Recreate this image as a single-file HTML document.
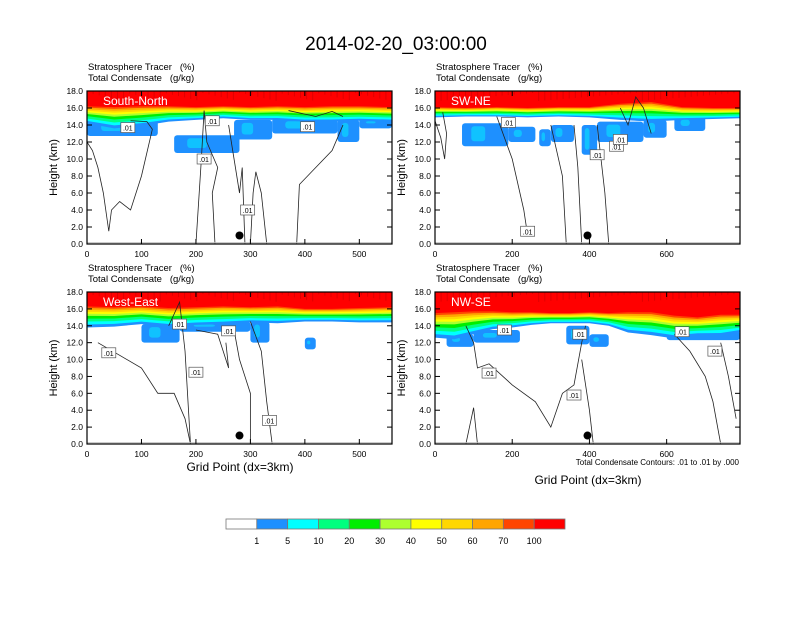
<!DOCTYPE html>
<html><head><meta charset="utf-8"><style>
body{margin:0;background:#fff;}
svg text{font-family:"Liberation Sans",Arial,sans-serif;white-space:pre;}
</style></head><body>
<svg id="chart" width="792" height="612" viewBox="0 0 792 612" xmlns="http://www.w3.org/2000/svg">
<rect width="792" height="612" fill="#fff"/>
<text x="396" y="50" font-size="19" text-anchor="middle">2014-02-20_03:00:00</text>
<g id="panels"></g>
<g id="colorbar"></g>
<text x="240" y="471" font-size="12" text-anchor="middle">Grid Point (dx=3km)</text>
<text x="588" y="484" font-size="12" text-anchor="middle">Grid Point (dx=3km)</text>
<text x="739" y="465" font-size="8" text-anchor="end">Total Condensate Contours: .01 to .01 by .000</text>
</svg>
<script>
// ---- data ----
const colorLevels = ["1","5","10","20","30","40","50","60","70","100"];
const colorFills = ["#ffffff","#1e90ff","#00ffff","#00ff7f","#00ee00","#adff2f","#ffff00","#ffd700","#ffa500","#ff4500","#ff0000"];
const yTicks = [0,2,4,6,8,10,12,14,16,18];
const panelNames = ["South-North","SW-NE","West-East","NW-SE"];
const panelXMax = [560,790,560,790];
const panelXTicks = [[0,100,200,300,400,500],[0,200,400,600],[0,100,200,300,400,500],[0,200,400,600]];
const bandX = [[0,50,100,150,200,250,300,350,400,450,500,560],[0,80,160,240,320,400,480,560,640,720,790],[0,50,100,150,200,250,300,350,400,450,500,560],[0,50,100,150,200,250,300,350,400,450,500,560,620,680,740,790]];
const redBase = [[16.2,16.1,16.2,16.2,16.1,16.2,16.1,16.2,16.1,16.2,16.2,16.1],[16.1,16.0,16.1,16.0,16.1,16.1,16.5,16.7,16.1,16.0,16.0],[16.3,16.2,16.3,16.1,16.2,16.3,16.2,16.3,16.0,16.0,16.1,16.2],[15.5,15.6,15.7,15.7,15.6,15.6,15.5,15.5,15.6,15.5,15.6,15.6,15.2,15.0,15.3,15.3]];
const colorBase = [[14.2,13.6,13.9,14.4,14.6,14.8,14.6,14.6,14.4,14.4,14.5,14.4],[14.9,15.0,15.0,14.9,15.0,14.9,14.6,14.4,14.6,14.7,14.8],[13.8,13.9,14.2,13.9,14.1,14.2,14.4,14.3,14.5,14.5,14.4,14.4],[12.6,12.4,13.0,13.6,13.8,14.1,14.3,14.3,14.3,14.0,13.2,12.9,12.5,12.8,12.8,13.2]];
const blueBlobs = [
 [[0,130,12.7,14.6],[160,280,10.7,12.8],[270,340,12.3,14.6],[340,460,13.0,14.8],[460,500,12.0,14.6],[500,560,13.6,14.8]],
 [[70,190,11.5,14.2],[190,260,12.0,13.8],[270,300,11.5,13.5],[300,360,12.0,14.0],[380,420,10.5,14.0],[420,540,12.0,14.4],[540,600,12.5,14.6],[620,700,13.3,15.0]],
 [[100,170,12.0,14.2],[170,300,13.3,14.5],[300,335,12.0,14.5],[400,420,11.2,12.6]],
 [[30,100,11.5,13.0],[100,220,12.0,13.5],[340,400,11.8,14.0],[400,450,11.5,13.0],[600,790,12.3,13.3]]
];
const contours = [
 [[0,12,10,11,20,9,30,6,40,1.5,45,4,60,5,80,4,100,8,120,13.5,110,14.4,80,14.5],[200,0,210,10,215,15.7,220,12,240,9,230,6,235,0],[260,14,270,10,280,6,285,9,290,0],[300,0,305,6,310,8.5,320,6,330,0],[385,0,390,7,420,9,450,11,470,14],[370,15.7,420,15,450,15.6,470,15]],
 [[0,14.5,15,12.5,25,10,30,13,20,15.5],[160,15,200,10,230,4,240,1],[300,14,330,8,340,0],[360,14,370,9,380,0],[420,14,440,6,450,0],[480,16,500,14,520,17.3,540,16,560,13]],
 [[20,12,60,10.5,100,9,130,6,160,6,180,3,190,0],[150,14,170,16.8,180,11,190,0],[200,13.5,240,13,250,11,260,9,255,12],[270,13.5,280,10,300,6,300,0],[300,14.5,320,11,330,5,340,0]],
 [[80,14,100,12,110,9,140,9.5,200,7,260,5,300,2,330,6,360,7,380,12,390,14],[80,0,100,4.3,110,0],[380,10,400,4,410,0],[620,13,660,11,700,8,720,5,740,0],[740,12,760,8,780,3]]
];
const contourLabels = [[[75,13.7],[230,14.5],[215,10],[295,4.0],[405,13.8]],[[190,14.3],[420,10.5],[470,11.5],[480,12.3],[240,1.5]],[[170,14.2],[260,13.4],[40,10.8],[200,8.5],[335,2.8]],[[180,13.5],[375,13.0],[140,8.4],[360,5.8],[640,13.3],[725,11]]];
const dotX = [280,395,280,395];

const boxes = [{x:87,y:91,w:305,h:153},{x:435,y:91,w:305,h:153},{x:87,y:292,w:305,h:152},{x:435,y:292,w:305,h:152}];
const NS='http://www.w3.org/2000/svg';
function mk(tag,attrs,parent){const e=document.createElementNS(NS,tag);for(const k in attrs)e.setAttribute(k,attrs[k]);parent.appendChild(e);return e;}
const root=document.getElementById('panels');

boxes.forEach((b,p)=>{
  const xs=v=>b.x+v/panelXMax[p]*b.w;
  const ys=v=>b.y+b.h-v/18*b.h;
  const g=mk('g',{},root);
  
  
  const cid='clip'+p;
  const cp=mk('clipPath',{id:cid},g); mk('rect',{x:b.x,y:b.y,width:b.w,height:b.h},cp);
  const pg=mk('g',{'clip-path':'url(#'+cid+')'},g);
  blueBlobs[p].forEach(bb=>{
    const r=mk('rect',{x:xs(bb[0]),y:ys(bb[3]),width:xs(bb[1])-xs(bb[0]),height:ys(bb[2])-ys(bb[3]),rx:3,fill:colorFills[1]},pg);
    
    
    mk('rect',{x:xs(bb[0])+(xs(bb[1])-xs(bb[0]))*0.2,y:ys(bb[3])+3,width:(xs(bb[1])-xs(bb[0]))*0.3,height:Math.max(0,ys(bb[2])-ys(bb[3])-8),rx:3,fill:colorFills[2],opacity:0.45},pg);
  });
  const fr=[0,0.14,0.28,0.42,0.55,0.65,0.74,0.83,0.92,1.0];
  for(let k=1;k<=9;k++){
    const lvl=i=>colorBase[p][i]+(redBase[p][i]-colorBase[p][i])*fr[k-1];
    let d='M'+xs(bandX[p][0])+','+ys(18.5);
    bandX[p].forEach((x,i)=>{d+=' L'+xs(x)+','+ys(lvl(i));});
    d+=' L'+xs(bandX[p][bandX[p].length-1])+','+ys(18.5)+' Z';
    const path=mk('path',{d:d,fill:colorFills[k]},pg);
    
    
  }
  let d='M'+xs(0)+','+ys(18.5);
  bandX[p].forEach((x,i)=>{d+=' L'+xs(x)+','+ys(redBase[p][i]);});
  d+=' L'+xs(panelXMax[p])+','+ys(18.5)+' Z';
  const red=mk('path',{d:d,fill:colorFills[10]},pg);
  
  
  for(let s=0;s<panelXMax[p];s+=panelXMax[p]/50){
    mk('line',{x1:xs(s),x2:xs(s),y1:ys(18),y2:ys(16.8+((s*7)%10)/10),stroke:'#e00000','stroke-width':1},pg);
  }
  contours[p].forEach(c=>{
    let pts=[];for(let i=0;i<c.length;i+=2)pts.push(xs(c[i])+','+ys(c[i+1]));
    const pl=mk('polyline',{points:pts.join(' '),fill:'none',stroke:'#222','stroke-width':0.8},pg);
    
    
  });
  contourLabels[p].forEach(l=>{
    const lg=mk('g',{},pg);
    
    
    mk('rect',{x:xs(l[0])-7,y:ys(l[1])-5,width:14,height:10,fill:'#fff',stroke:'#555','stroke-width':0.7},lg);
    const t=mk('text',{x:xs(l[0]),y:ys(l[1])+3,'font-size':7,'text-anchor':'middle'},lg);t.textContent='.01';
  });
  mk('line',{x1:b.x,x2:b.x+b.w,y1:ys(0.15),y2:ys(0.15),stroke:'#bbb','stroke-width':1},pg);
  const dot=mk('circle',{cx:xs(dotX[p]),cy:ys(1.0),r:4,fill:'#000'},pg);
  
  
  const pl=mk('text',{x:b.x+16,y:b.y+14,'font-size':12,fill:'#fff'},g);pl.textContent=panelNames[p];
  
  
  mk('rect',{x:b.x,y:b.y,width:b.w,height:b.h,fill:'none',stroke:'#000','stroke-width':1.2},g);
  yTicks.forEach(v=>{
    mk('line',{x1:b.x,x2:b.x+5,y1:ys(v),y2:ys(v),stroke:'#000'},g);
    mk('line',{x1:b.x+b.w,x2:b.x+b.w-5,y1:ys(v),y2:ys(v),stroke:'#000'},g);
    const t=mk('text',{x:b.x-4,y:ys(v)+3,'font-size':8.5,'text-anchor':'end'},g);t.textContent=v.toFixed(1);
    
    
  });
  panelXTicks[p].forEach(v=>{
    mk('line',{x1:xs(v),x2:xs(v),y1:b.y+b.h,y2:b.y+b.h-5,stroke:'#000'},g);
    mk('line',{x1:xs(v),x2:xs(v),y1:b.y,y2:b.y+5,stroke:'#000'},g);
    const t=mk('text',{x:xs(v),y:b.y+b.h+13,'font-size':8.5,'text-anchor':'middle'},g);t.textContent=v;
    
    
  });
  const yt=mk('text',{x:b.x-30,y:b.y+b.h/2,'font-size':11,'text-anchor':'middle',transform:'rotate(-90 '+(b.x-30)+' '+(b.y+b.h/2)+')'},g);
  yt.textContent='Height (km)';
  
  
  const h1=mk('text',{x:b.x+1,y:b.y-21,'font-size':9.5},g);h1.textContent='Stratosphere Tracer   (%)';
  
  
  const h2=mk('text',{x:b.x+1,y:b.y-10,'font-size':9.5},g);h2.textContent='Total Condensate   (g/kg)';
  
  
});

const cb=document.getElementById('colorbar');
const cbx=226,cbw=339/11,cby=519,cbh=10;
colorFills.forEach((c,i)=>{
  const r=mk('rect',{x:cbx+i*cbw,y:cby,width:cbw,height:cbh,fill:c,stroke:'#777','stroke-width':0.8},cb);
  
  
});
colorLevels.forEach((l,i)=>{
  const t=mk('text',{x:cbx+(i+1)*cbw,y:cby+25,'font-size':9,'text-anchor':'middle'},cb);t.textContent=l;
  
  
});
</script>
</body></html>
